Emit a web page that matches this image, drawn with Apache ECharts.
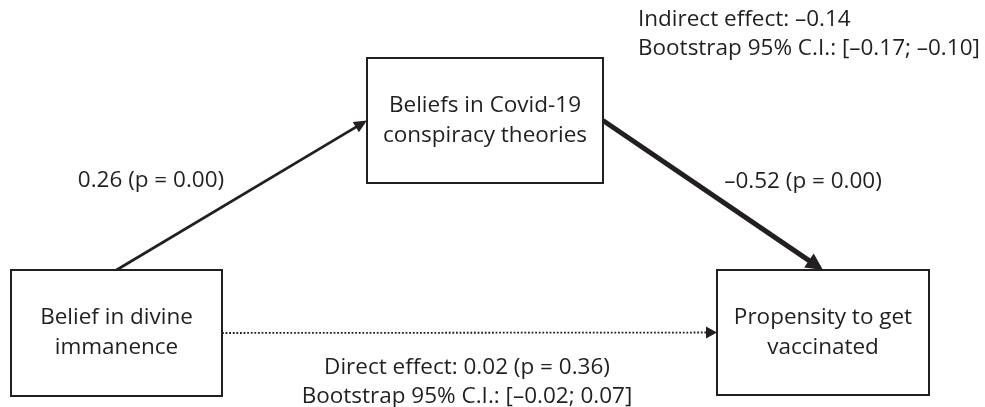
<!DOCTYPE html>
<html>
<head>
<meta charset="utf-8">
<script src="https://cdn.jsdelivr.net/npm/echarts@6/dist/echarts.min.js"></script>
<style>
  html, body { margin: 0; padding: 0; background: #fff; }
  #chart { width: 985px; height: 407px; }
</style>
</head>
<body>
<div id="chart"></div>
<script>
// variables of the mediation model
const nodeNames = [
  'Belief in divine\nimmanence',
  'Beliefs in Covid-19\nconspiracy theories',
  'Propensity to get\nvaccinated'
];
// paths: a (X -> M), b (M -> Y), c' (X -> Y direct)
const pathFrom = [0, 1, 0];
const pathTo = [1, 2, 2];
const pathCoef = [0.26, -0.52, 0.02];
const pathP = [0.00, 0.00, 0.36];
const directCI = [-0.02, 0.07];
const indirectEffect = -0.14;
const indirectCI = [-0.17, -0.10];

// layout in canvas units (x 0..985, y 0..407, y going down)
const boxRects = [
  [11, 270, 222, 396],
  [367, 58, 603, 183],
  [717, 270, 929, 395]
];
// which side of each box a path leaves / enters
const pathSides = [['top', 'left'], ['right', 'top'], ['right', 'left']];
const pathStyles = [
  { width: 2.7, head: 13, half: 6, dash: null },
  { width: 5, head: 17, half: 8.5, dash: null },
  { width: 1.8, head: 11, half: 6, dash: [1.8, 1.8] }
];

const INK = '#231f20';
const FONT = '"Open Sans", "Noto Sans", sans-serif';
const FS = 22.5;

function fmt(v) {
  const s = Math.abs(v).toFixed(2);
  return v < 0 ? '\u2013' + s : s;
}
function anchor(rect, side) {
  const cx = (rect[0] + rect[2]) / 2, cy = (rect[1] + rect[3]) / 2;
  if (side === 'top') return [cx, rect[1]];
  if (side === 'bottom') return [cx, rect[3]];
  if (side === 'left') return [rect[0], cy];
  return [rect[2], cy];
}

const arrowData = pathFrom.map((f, i) => {
  const p1 = anchor(boxRects[f], pathSides[i][0]);
  const p2 = anchor(boxRects[pathTo[i]], pathSides[i][1]);
  return [p1[0], p1[1], p2[0], p2[1]];
});

const labelTexts = [
  fmt(pathCoef[0]) + ' (p = ' + fmt(pathP[0]) + ')',
  fmt(pathCoef[1]) + ' (p = ' + fmt(pathP[1]) + ')',
  'Direct effect: ' + fmt(pathCoef[2]) + ' (p = ' + fmt(pathP[2]) + ')\nBootstrap 95% C.I.: [' + fmt(directCI[0]) + '; ' + fmt(directCI[1]) + ']',
  'Indirect effect: ' + fmt(indirectEffect) + '\nBootstrap 95% C.I.: [' + fmt(indirectCI[0]) + '; ' + fmt(indirectCI[1]) + ']'
];
const labelPos = [[151, 181], [803, 182], [467, 382], [638, 34]];
const labelAlign = ['center', 'center', 'center', 'left'];

const chart = echarts.init(document.getElementById('chart'));

chart.setOption({
  animation: false,
  backgroundColor: '#fff',
  grid: { left: 0, right: 0, top: 0, bottom: 0 },
  xAxis: { type: 'value', min: 0, max: 985, show: false },
  yAxis: { type: 'value', min: 0, max: 407, inverse: true, show: false },
  series: [
    {
      // arrows
      type: 'custom',
      z: 1,
      data: arrowData,
      renderItem: function (params, api) {
        const st = pathStyles[params.dataIndex];
        const a = api.coord([api.value(0), api.value(1)]);
        const b = api.coord([api.value(2), api.value(3)]);
        const dx = b[0] - a[0], dy = b[1] - a[1];
        const len = Math.sqrt(dx * dx + dy * dy);
        const ux = dx / len, uy = dy / len;
        const nx = -uy, ny = ux;
        const bx = b[0] - ux * st.head, by = b[1] - uy * st.head;
        const endx = b[0] - ux * st.head * 0.7, endy = b[1] - uy * st.head * 0.7;
        return {
          type: 'group',
          children: [
            {
              type: 'line',
              shape: { x1: a[0], y1: a[1], x2: endx, y2: endy },
              style: { stroke: INK, lineWidth: st.width, lineDash: st.dash, lineCap: 'butt' }
            },
            {
              type: 'polygon',
              shape: {
                points: [
                  [b[0], b[1]],
                  [bx + nx * st.half, by + ny * st.half],
                  [bx - nx * st.half, by - ny * st.half]
                ]
              },
              style: { fill: INK }
            }
          ]
        };
      }
    },
    {
      // variable boxes
      type: 'custom',
      z: 2,
      data: boxRects.map((r, i) => [r[0], r[1], r[2], r[3], i]),
      renderItem: function (params, api) {
        const p1 = api.coord([api.value(0), api.value(1)]);
        const p2 = api.coord([api.value(2), api.value(3)]);
        return {
          type: 'group',
          children: [
            {
              type: 'rect',
              shape: { x: p1[0], y: p1[1], width: p2[0] - p1[0], height: p2[1] - p1[1] },
              style: { fill: '#fff', stroke: INK, lineWidth: 2 }
            },
            {
              type: 'text',
              style: {
                text: nodeNames[params.dataIndex],
                x: (p1[0] + p2[0]) / 2,
                y: (p1[1] + p2[1]) / 2,
                align: 'center',
                verticalAlign: 'middle',
                fontFamily: FONT,
                fontSize: FS,
                lineHeight: 30,
                fill: INK
              }
            }
          ]
        };
      }
    },
    {
      // coefficient and effect labels
      type: 'custom',
      z: 3,
      data: labelPos,
      renderItem: function (params, api) {
        const p = api.coord([api.value(0), api.value(1)]);
        return {
          type: 'text',
          style: {
            text: labelTexts[params.dataIndex],
            x: p[0],
            y: p[1],
            align: labelAlign[params.dataIndex],
            verticalAlign: 'middle',
            fontFamily: FONT,
            fontSize: FS,
            lineHeight: 29,
            fill: INK
          }
        };
      }
    }
  ]
});
</script>
</body>
</html>
